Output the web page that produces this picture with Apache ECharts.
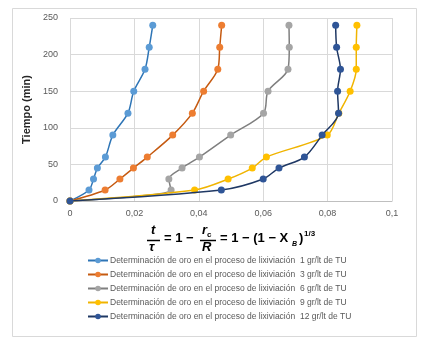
<!DOCTYPE html>
<html><head><meta charset="utf-8">
<script src="https://cdn.jsdelivr.net/npm/echarts@6/dist/echarts.min.js"></script>
<style>html,body{margin:0;padding:0;background:#fff}#c{width:423px;height:348px}</style>
</head><body><div id="c"></div>
<script>
const tiempo = [0, 15, 30, 45, 60, 90, 120, 150, 180, 210, 240];
const s1gr = [0, 0.0059, 0.0073, 0.0085, 0.011, 0.0133, 0.018, 0.0198, 0.0233, 0.0246, 0.0257];
const s3gr = [0, 0.0109, 0.0155, 0.0197, 0.024, 0.0319, 0.038, 0.0415, 0.0459, 0.0465, 0.0471];
const s6gr = [0, 0.0314, 0.0307, 0.0348, 0.0402, 0.0499, 0.0601, 0.0615, 0.0677, 0.0681, 0.068];
const s9gr = [0, 0.0387, 0.0491, 0.0566, 0.061, 0.0799, 0.0835, 0.087, 0.0889, 0.0889, 0.0891];
const s12gr = [0, 0.047, 0.06, 0.0649, 0.0728, 0.0783, 0.0834, 0.0831, 0.084, 0.0828, 0.0825];
const seriesNames = [
  'Determinación de oro en el proceso de lixiviación  1 gr/lt de TU',
  'Determinación de oro en el proceso de lixiviación  3 gr/lt de TU',
  'Determinación de oro en el proceso de lixiviación  6 gr/lt de TU',
  'Determinación de oro en el proceso de lixiviación  9 gr/lt de TU',
  'Determinación de oro en el proceso de lixiviación  12 gr/lt de TU'
];
const allValues = [s1gr, s3gr, s6gr, s9gr, s12gr];
const lineColors = ['#2e75b6', '#c55a11', '#7f7f7f', '#f0b400', '#1f3864'];
const markColors = ['#5b9bd5', '#ed7d31', '#a5a5a5', '#ffc000', '#2f5597'];
const FONT = 'Liberation Sans';

const chart = echarts.init(document.getElementById('c'), null, {renderer: 'canvas'});
const series = allValues.map((vals, i) => ({
  name: seriesNames[i],
  type: 'line',
  smooth: 0.3,
  symbol: 'circle',
  symbolSize: 7,
  data: vals.map((v, k) => [v, tiempo[k]]),
  lineStyle: {color: lineColors[i], width: 1.5},
  itemStyle: {color: markColors[i], borderColor: markColors[i], borderWidth: 0},
  emphasis: {disabled: true},
  z: 2 + i
}));

chart.setOption({
  animation: false,
  backgroundColor: '#fff',
  textStyle: {fontFamily: FONT},
  grid: {left: 70, right: 31, top: 18, bottom: 147},
  xAxis: {
    type: 'value', min: 0, max: 0.1, interval: 0.02,
    axisLine: {show: true, lineStyle: {color: '#bfbfbf'}},
    axisTick: {show: false},
    splitLine: {show: true, lineStyle: {color: '#d9d9d9'}},
    axisLabel: {color: '#595959', fontSize: 9, fontFamily: FONT, margin: 8,
      formatter: v => String(+v.toFixed(2)).replace('.', ',')}
  },
  yAxis: {
    type: 'value', min: 0, max: 250, interval: 50,
    name: 'Tiempo (min)', nameLocation: 'middle', nameGap: 38,
    nameTextStyle: {color: '#262626', fontSize: 11, fontWeight: 'bold', fontFamily: FONT},
    axisLine: {show: false},
    axisTick: {show: false},
    splitLine: {show: true, lineStyle: {color: '#d9d9d9'}},
    axisLabel: {color: '#595959', fontSize: 9, fontFamily: FONT, margin: 12}
  },
  legend: {
    orient: 'vertical', left: 82, top: 251,
    itemWidth: 20, itemHeight: 7, itemGap: 5,
    textStyle: {color: '#595959', fontSize: 8.5, fontFamily: FONT, padding: [0, 0, 0, -3]},
    data: seriesNames
  },
  series: series,
  graphic: [
    {type: 'rect', left: 10, top: 6, shape: {width: 404, height: 328}, style: {fill: 'none', stroke: '#d9d9d9', lineWidth: 1}, silent: true},
    {type: 'text', left: 151, top: 224, style: {text: 't', font: 'bold italic 13px "Liberation Sans"', fill: '#000'}},
    {type: 'line', shape: {x1: 147, y1: 240.5, x2: 160, y2: 240.5}, style: {stroke: '#000', lineWidth: 1.5}},
    {type: 'text', left: 149, top: 241, style: {text: 'τ', font: 'bold italic 13px "Liberation Sans"', fill: '#000'}},
    {type: 'text', left: 164, top: 232, style: {text: '= 1 −', font: 'bold 13px "Liberation Sans"', fill: '#000'}},
    {type: 'text', left: 202, top: 224, style: {text: 'r', font: 'bold italic 13px "Liberation Sans"', fill: '#000'}},
    {type: 'text', left: 207, top: 231, style: {text: 'c', font: 'bold 8px "Liberation Sans"', fill: '#000'}},
    {type: 'line', shape: {x1: 200, y1: 240.5, x2: 216, y2: 240.5}, style: {stroke: '#000', lineWidth: 1.5}},
    {type: 'text', left: 202, top: 241, style: {text: 'R', font: 'bold italic 13px "Liberation Sans"', fill: '#000'}},
    {type: 'text', left: 220, top: 232, style: {text: '= 1 − (1 − X', font: 'bold 13px "Liberation Sans"', fill: '#000'}},
    {type: 'text', left: 292, top: 241, style: {text: 'B', font: 'bold italic 7px "Liberation Sans"', fill: '#000'}},
    {type: 'text', left: 299, top: 232, style: {text: ')', font: 'bold 13px "Liberation Sans"', fill: '#000'}},
    {type: 'text', left: 304, top: 230, style: {text: '1/3', font: 'bold 8px "Liberation Sans"', fill: '#000'}}
  ]
});
</script>
</body></html>
